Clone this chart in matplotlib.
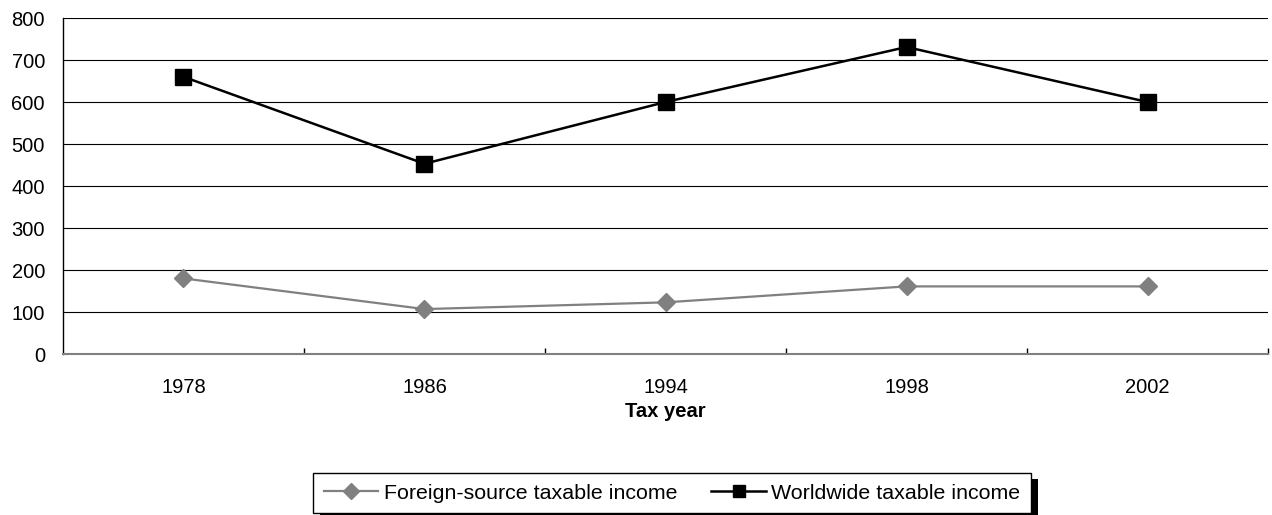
import matplotlib.pyplot as plt
import numpy as np
from matplotlib.patches import Rectangle

plt.rcParams['font.family'] = ['Liberation Sans', 'DejaVu Sans']

years = ['1978', '1986', '1994', '1998', '2002']
foreign_income = [180, 107, 123, 161, 161]
worldwide_income = [660, 453, 600, 731, 600]

x = np.arange(len(years))

fig = plt.figure(figsize=(12.72, 5.15), dpi=100)
ax = fig.add_axes([0.0495, 0.3126, 0.9474, 0.6524])

ax.plot(x, foreign_income, color='#808080', lw=1.6, marker='D', markersize=9.5,
        label='Foreign-source taxable income', zorder=3)
ax.plot(x, worldwide_income, color='black', lw=1.8, marker='s', markersize=11,
        label='Worldwide taxable income', zorder=4)

ax.set_xlim(-0.5, len(years) - 0.5)
ax.set_ylim(0, 800)
ax.set_yticks(range(0, 801, 100))
ax.yaxis.grid(True, color='black', lw=0.8)
ax.set_axisbelow(True)

ax.set_xticks(x)
ax.set_xticklabels(years)
ax.set_xticks(np.arange(0.5, len(years), 1.0), minor=True)
ax.tick_params(axis='x', which='major', length=0, pad=17, labelsize=14.5)
ax.tick_params(axis='x', which='minor', direction='in', length=4, width=1, color='black')
ax.tick_params(axis='y', length=0, pad=13, labelsize=14.5)

for side in ['top', 'right']:
    ax.spines[side].set_visible(False)
ax.spines['left'].set_color('black')
ax.spines['left'].set_linewidth(1.0)
ax.spines['bottom'].set_color('#808080')
ax.spines['bottom'].set_linewidth(1.5)

ax.set_xlabel('Tax year', fontsize=14.5, fontweight='bold', labelpad=4)

handles, labels = ax.get_legend_handles_labels()
leg = fig.legend(handles, labels, loc='center', bbox_to_anchor=(0.5283, 0.0427),
                 ncol=2, frameon=True, fancybox=False, framealpha=1, facecolor='white',
                 fontsize=15.4, handlelength=2.55, handletextpad=0.25,
                 columnspacing=1.6, borderpad=0.5, markerscale=0.82)
leg.get_frame().set_edgecolor('black')
leg.get_frame().set_linewidth(1.0)
leg.set_zorder(10)

# drop shadow behind the legend box
fig.canvas.draw()
bb = leg.get_window_extent()
fig.patches.append(Rectangle((bb.x0 + 7, bb.y0 - 6), bb.width, bb.height,
                             transform=None, facecolor='black', edgecolor='none',
                             zorder=9, figure=fig))

fig.savefig('out.png', dpi=100)
